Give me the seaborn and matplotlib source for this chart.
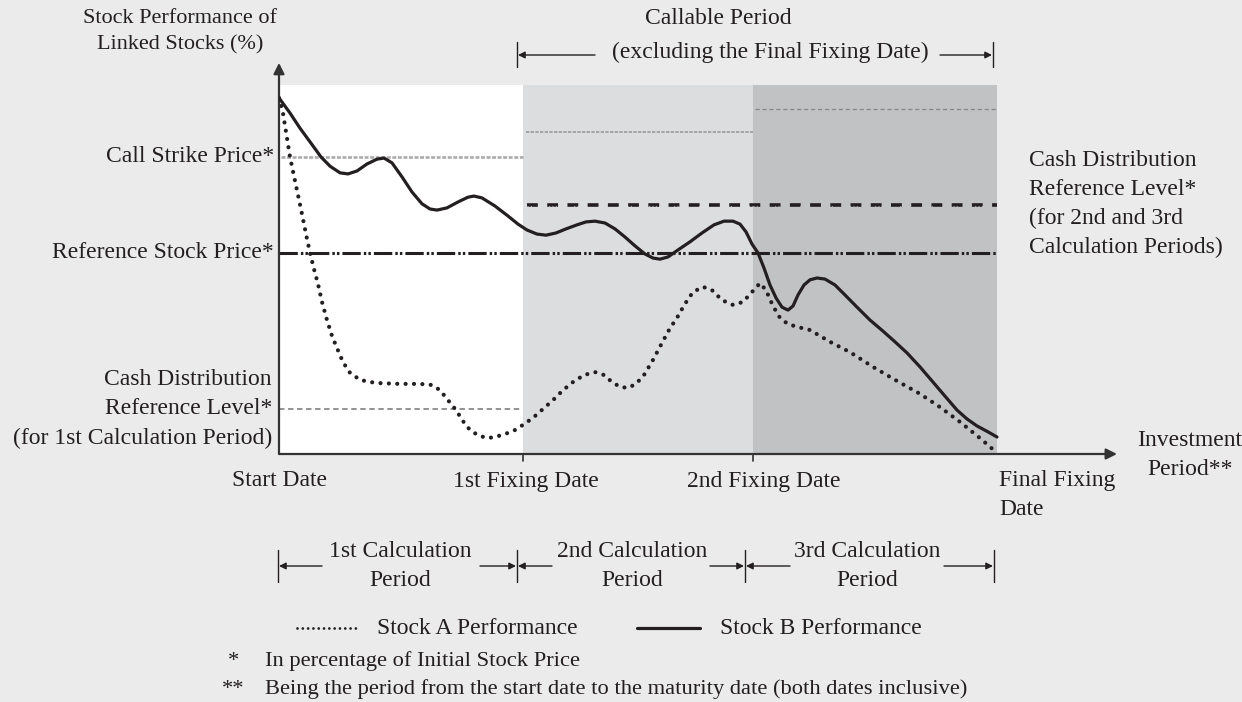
import numpy as np
import pandas as pd
import matplotlib
matplotlib.use("Agg")
import matplotlib.pyplot as plt
from matplotlib.transforms import Affine2D
from matplotlib.lines import Line2D
from matplotlib.patches import FancyArrowPatch
import seaborn as sns

# x = days from start date, y = performance level (arbitrary % scale)
period_edges = [0, 244, 474, 718]
period_colors = ["white", "#dcdddf", "#c1c2c4"]

stock_b_x = [0, 11, 21, 31, 42, 51, 61, 69, 78, 88, 98, 105, 113, 123, 133, 143, 151, 158,
             168, 179, 189, 195, 203, 216, 229, 239, 248, 258, 267, 277, 287, 298, 307, 316,
             326, 336, 346, 356, 366, 374, 381, 389, 399, 411, 423, 435, 445, 454, 461, 467,
             473, 479, 485, 491, 497, 503, 509, 514, 519, 525, 531, 538, 546, 556, 566, 578,
             591, 604, 616, 628, 641, 653, 665, 678, 688, 698, 709, 718]
stock_b_y = [96.5, 92.4, 88.3, 84.6, 80.5, 78.0, 76.2, 75.9, 76.7, 78.6, 79.9, 80.2, 78.9,
             75.1, 71.0, 67.8, 66.4, 66.1, 66.7, 68.3, 69.6, 69.9, 69.4, 67.2, 64.5, 62.3,
             60.7, 59.6, 59.3, 59.9, 61.0, 62.1, 62.9, 63.1, 62.6, 61.0, 58.8, 56.4, 54.2,
             53.1, 52.8, 53.4, 55.3, 57.5, 59.9, 62.1, 63.1, 63.1, 62.3, 60.2, 56.9, 54.5,
             50.4, 45.8, 42.3, 39.8, 39.0, 40.1, 43.1, 45.8, 47.2, 47.7, 47.4, 45.8, 43.1,
             39.8, 36.3, 33.3, 30.4, 27.4, 23.6, 19.8, 16.0, 11.9, 9.5, 7.6, 6.0, 4.6]

stock_a_x = [0, 4, 7, 11, 15, 19, 23, 27, 31, 35, 39, 43, 48, 53, 58, 64, 71, 81, 91, 101,
             121, 141, 153, 161, 169, 177, 184, 191, 199, 208, 216, 226, 236, 244, 254, 264,
             274, 284, 294, 305, 316, 325, 333, 341, 349, 357, 365, 374, 383, 391, 398, 406,
             414, 424, 433, 443, 454, 464, 473, 481, 487, 494, 501, 509, 519, 531, 551, 571,
             594, 616, 641, 661, 681, 701, 718]
stock_a_y = [96.5, 92.4, 87.3, 80.5, 75.3, 70.2, 65.0, 59.6, 54.5, 50.1, 46.1, 41.2, 36.3,
             32.0, 28.7, 24.9, 22.0, 20.1, 19.5, 19.2, 19.0, 19.0, 18.7, 17.3, 14.6, 11.9,
             8.9, 6.5, 5.1, 4.3, 4.6, 5.4, 6.5, 7.9, 9.8, 12.2, 14.6, 17.3, 19.5, 21.4, 22.2,
             21.4, 19.5, 18.2, 17.9, 19.0, 21.4, 25.5, 30.1, 34.1, 36.9, 40.7, 43.9, 45.3,
             44.4, 41.7, 40.4, 41.2, 43.9, 46.3, 44.4, 40.1, 36.9, 35.2, 34.4, 33.6, 30.4,
             27.6, 23.6, 20.1, 16.3, 12.7, 8.7, 4.3, 0.3]

call_strike = [80.5, 87.3, 93.5]
reference_stock_price = 54.5
cash_dist_1st = 12.2
cash_dist_2nd_3rd = 67.5

TXT = "#231f20"
W, H = 1242, 702

sns.set_theme(style="white")
plt.rcParams["font.family"] = ["Liberation Serif", "DejaVu Serif"]

fig = plt.figure(figsize=(W / 100, H / 100), dpi=100, facecolor="#ebebeb")
ax = fig.add_axes([279 / W, (H - 454) / H, 841 / W, 394 / H])
ax.set_xlim(0, 841)
ax.set_ylim(0, 394 / 3.69)
ax.axis("off")

# calculation period shading
for a, b, c in zip(period_edges[:-1], period_edges[1:], period_colors):
    ax.fill_between([a, b], 0, 100, color=c, lw=0, zorder=0)

# level lines
ax.hlines(call_strike[0], 2, period_edges[1], color="#acacac", lw=1.9,
          linestyles=(0, (1.5, 0.6)), zorder=2)
ax.hlines(call_strike[1], period_edges[1] + 3, period_edges[2], color="#9a9a9a", lw=1.2,
          linestyles=(0, (2, 0.8)), zorder=2)
ax.hlines(call_strike[2], period_edges[2] + 2, period_edges[3], color="#8a8a8a", lw=1.0,
          linestyles=(0, (3, 2)), zorder=2)
ax.hlines(cash_dist_1st, 0, period_edges[1] - 3, color="#8a8a8a", lw=1.3,
          linestyles=(0, (3, 2)), zorder=2)
ax.hlines(cash_dist_2nd_3rd, period_edges[1] + 4, period_edges[3], color=TXT, lw=2.6,
          linestyles=(0, (3.0, 2.6)), zorder=2)
# small notches inside the dashes of the 2nd/3rd cash distribution line
for a, b, c in zip(period_edges[1:-1], period_edges[2:], period_colors[1:]):
    ax.hlines(cash_dist_2nd_3rd - 0.3, max(a, period_edges[1] + 4), b, color=c, lw=0.9,
              linestyles=(2.5, (0.6, 2.0, 0.6, 2.0, 0.6, 14.2)), zorder=2.5)
ax.hlines(reference_stock_price, 0, period_edges[3], color=TXT, lw=2.2,
          linestyles=(0, (6.0, 1.0, 0.8, 0.7, 0.8, 1.0)), zorder=2)

# stock performance lines
sns.lineplot(x=stock_a_x, y=stock_a_y, ax=ax, color=TXT, lw=3.0, sort=False,
             linestyle=(0, (0.01, 2.0)), dash_capstyle="round", zorder=3)
sns.lineplot(x=stock_b_x, y=stock_b_y, ax=ax, color=TXT, lw=2.3, sort=False, zorder=4)

# axes arrows
arr = dict(arrowstyle="-|>", lw=1.6, color="#333333", mutation_scale=16, shrinkA=0, shrinkB=0)
ax.annotate("", xy=(838, 0), xytext=(0, 0), arrowprops=arr, annotation_clip=False)
ax.annotate("", xy=(0, 106.0), xytext=(0, 0), arrowprops=arr, annotation_clip=False)
for xe in period_edges[1:3]:
    ax.plot([xe, xe], [0, -2], color="#333333", lw=1.2, clip_on=False)

# pixel-coordinate transform for annotations
pix = Affine2D().scale(1 / W, -1 / H).translate(0, 1) + fig.transFigure
FS = 17


def txt(x, y, s, ha="center", fs=FS, **kw):
    fig.text(x, y, s, transform=pix, ha=ha, va="center", fontsize=fs, color=TXT,
             linespacing=1.5, **kw)


def span_arrow(x0, x1, y):
    fig.add_artist(FancyArrowPatch((x0, y), (x1, y), transform=pix, arrowstyle="-|>",
                                   mutation_scale=10, lw=1.0, color=TXT, shrinkA=0, shrinkB=0))


def bar(x, y0, y1):
    fig.add_artist(Line2D([x, x], [y0, y1], transform=pix, color=TXT, lw=1.0))


txt(180, 32, "Stock Performance of\nLinked Stocks (%)", fs=16)
txt(718, 18, "Callable Period")
txt(770, 52, "(excluding the Final Fixing Date)")
bar(517, 42, 67)
bar(993, 42, 67)
span_arrow(595, 518, 55)
span_arrow(940, 992, 55)

txt(274, 157, "Call Strike Price*", ha="right")
txt(274, 253, "Reference Stock Price*", ha="right")
txt(272, 409, "Cash Distribution\nReference Level*\n(for 1st Calculation Period)",
    ha="right", multialignment="right")
txt(1029, 204, "Cash Distribution\nReference Level*\n(for 2nd and 3rd\nCalculation Periods)",
    ha="left", multialignment="left")
txt(1190, 455, "Investment\nPeriod**")

txt(279, 481, "Start Date")
txt(526, 481, "1st Fixing Date")
txt(764, 481, "2nd Fixing Date")
txt(999, 495, "Final Fixing\nDate", ha="left", multialignment="left")

# calculation period spans
for xb in [278, 517, 745, 994]:
    bar(xb, 550, 582)
calc_spans = [(400, 322, 279, 480, 516), (632, 552, 518, 710, 744), (867, 790, 746, 944, 993)]
for label, (cx, la0, la1, ra0, ra1) in zip(["1st", "2nd", "3rd"], calc_spans):
    txt(cx, 566, f"{label} Calculation\nPeriod")
    span_arrow(la0, la1, 566)
    span_arrow(ra0, ra1, 566)

# legend
fig.add_artist(Line2D([297, 358], [628, 628], transform=pix, color=TXT, lw=2.0,
                      linestyle=(0, (0.01, 1.9)), dash_capstyle="round"))
txt(377, 628, "Stock A Performance", ha="left")
fig.add_artist(Line2D([637, 700], [628, 628], transform=pix, color=TXT, lw=2.3))
txt(720, 628, "Stock B Performance", ha="left")

# footnotes
txt(228, 661, "*", ha="left", fs=16.2)
txt(265, 661, "In percentage of Initial Stock Price", ha="left", fs=16.2)
txt(222, 689, "**", ha="left", fs=16.2)
txt(265, 689, "Being the period from the start date to the maturity date (both dates inclusive)",
    ha="left", fs=16.2)

fig.savefig("out.png", dpi=100, facecolor=fig.get_facecolor())
